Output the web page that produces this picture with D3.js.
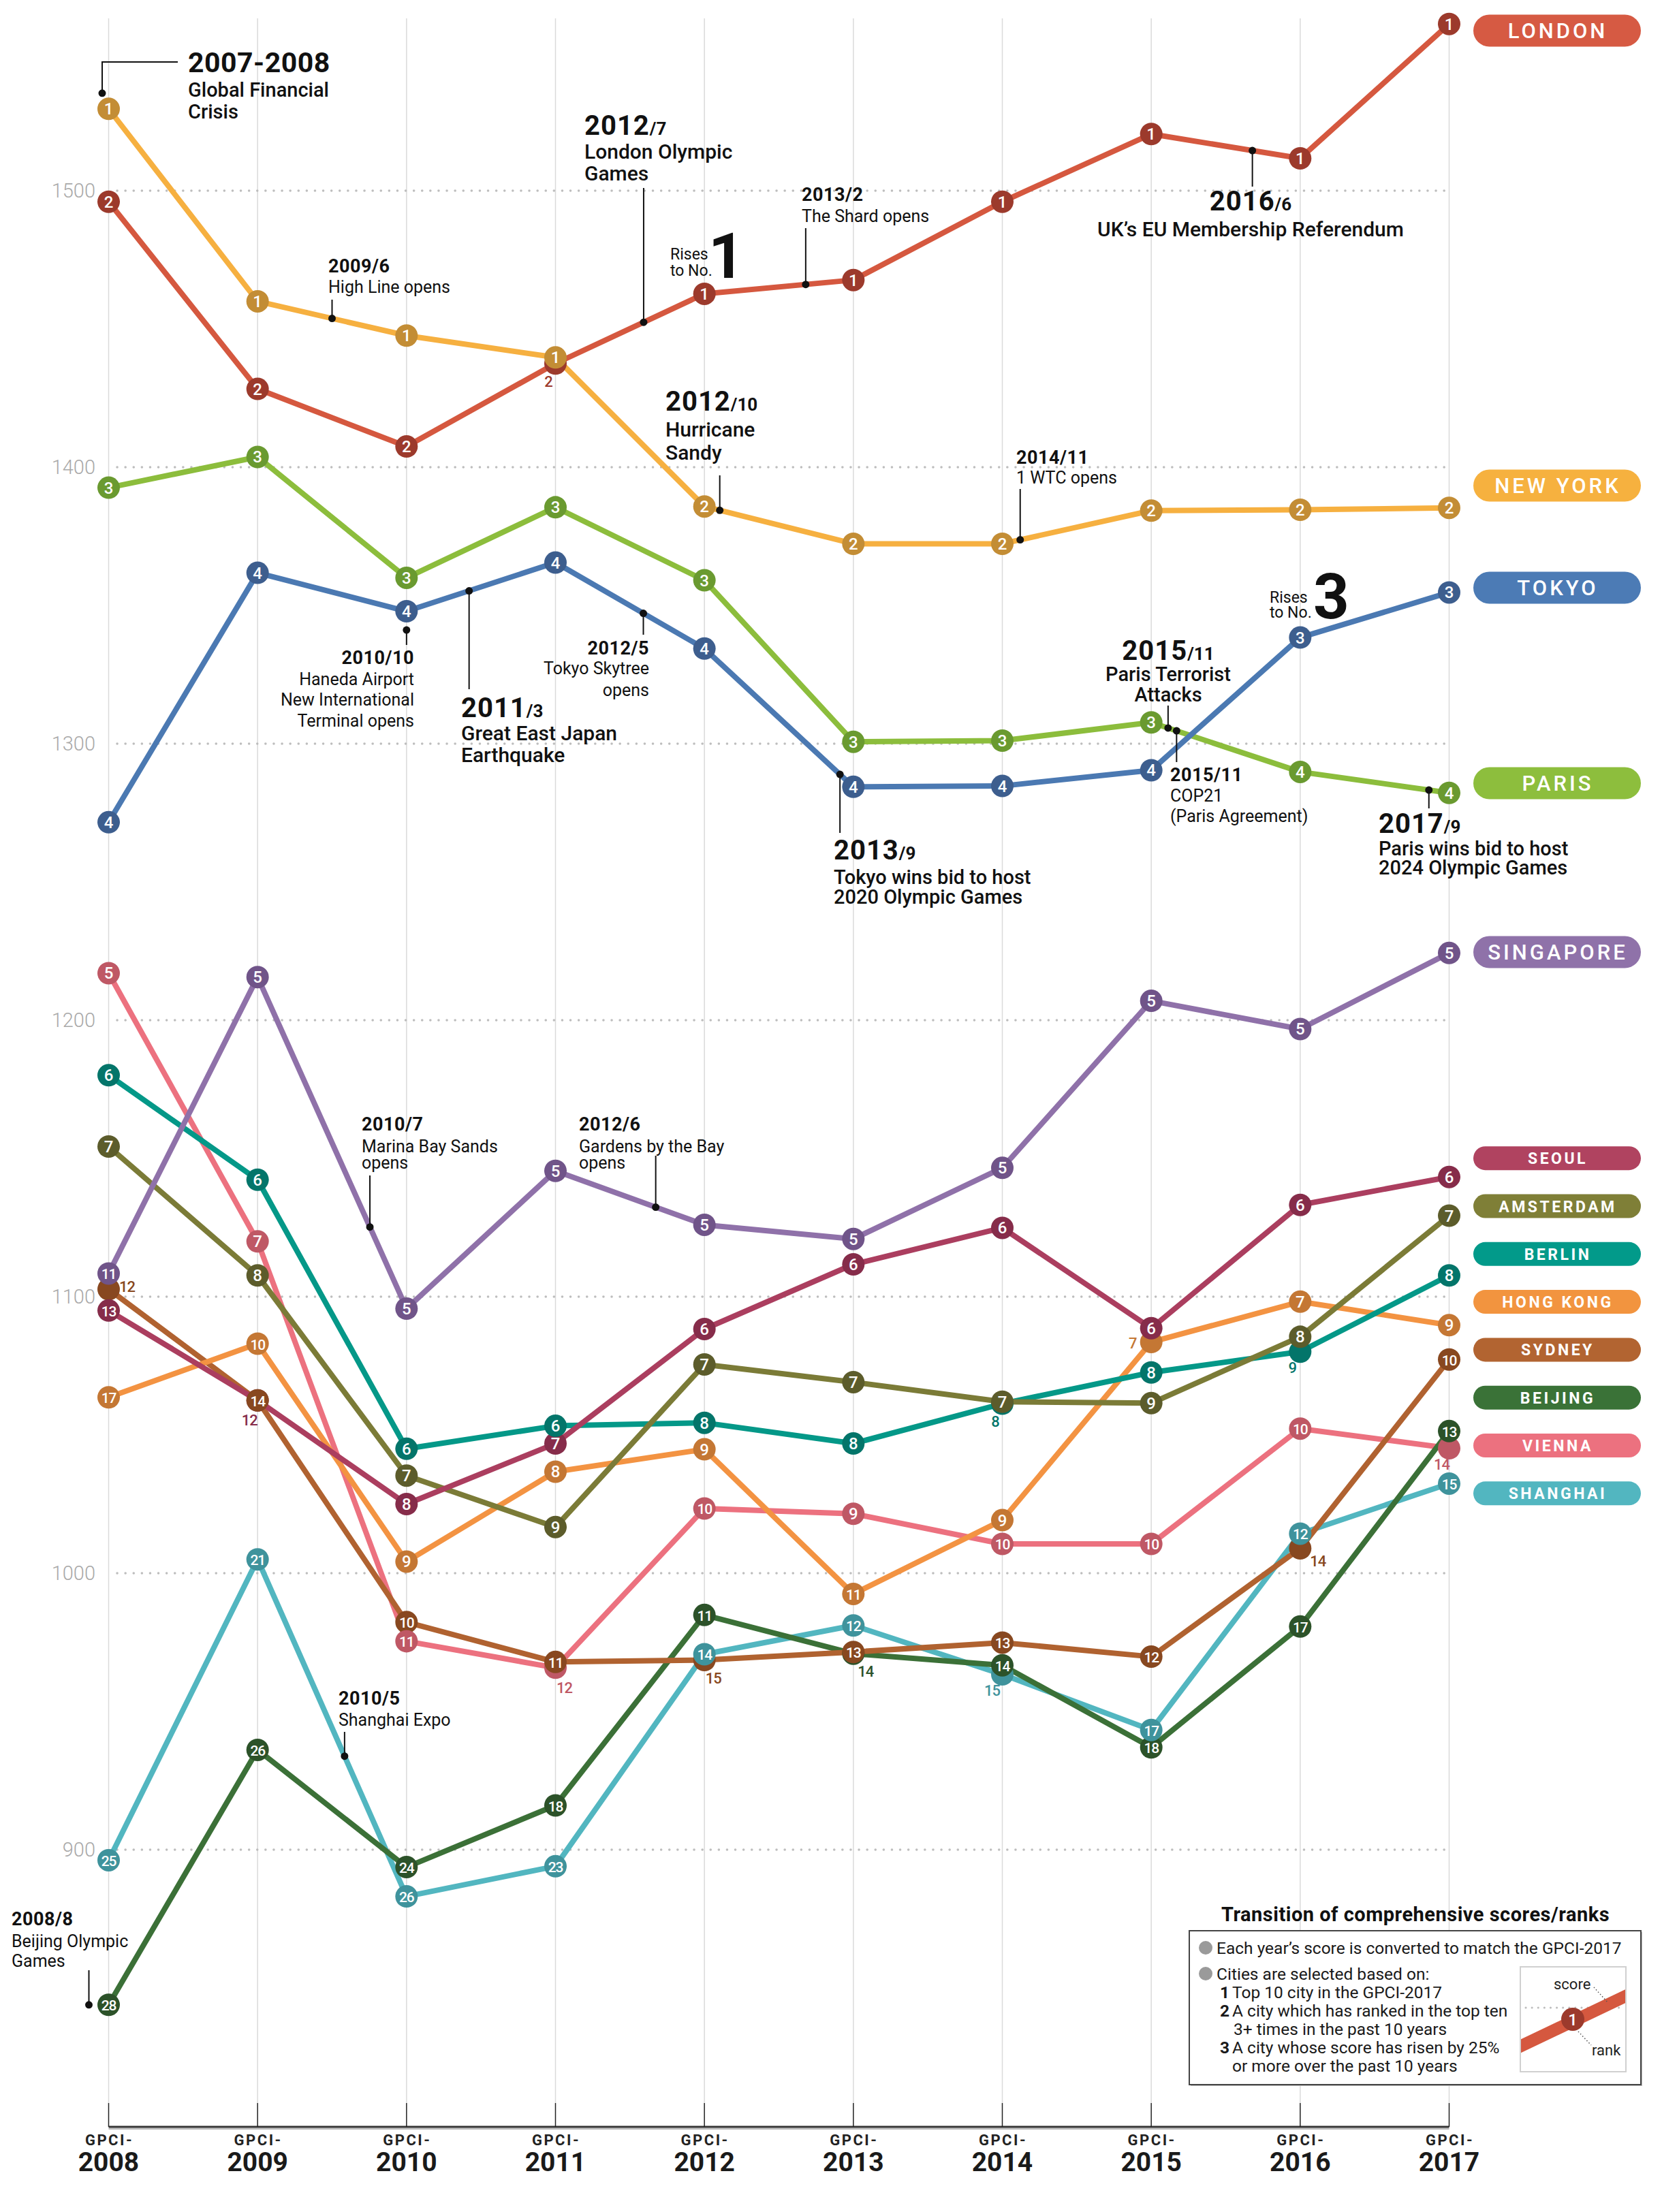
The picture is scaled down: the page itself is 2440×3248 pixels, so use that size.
<!DOCTYPE html>
<html><head><meta charset="utf-8">
<script src="https://cdn.jsdelivr.net/npm/d3@7"></script>
<style>
html,body{margin:0;padding:0;background:#fff;}
svg{display:block;font-family:Roboto,"Noto Sans",sans-serif;}
</style></head><body>
<svg id="chart" width="2440" height="3248"></svg>
<script>
// ---------------- DATA ----------------
const years = [2008,2009,2010,2011,2012,2013,2014,2015,2016,2017];
const yearTickLabels = ["2008","2009","2010","2011","2012","2013","2014","2015","2016","2017"];
const yTicks = [900,1000,1100,1200,1300,1400,1500];
const cityNames = ["London","New York","Tokyo","Paris","Singapore","Seoul","Amsterdam","Berlin","Hong Kong","Sydney","Beijing","Vienna","Shanghai"];

const londonScores    = [1496.0,1428.3,1407.5,1437.5,1462.7,1467.7,1496.0,1520.5,1511.7,1560.3];
const londonRanks     = [2,2,2,2,1,1,1,1,1,1];
const newYorkScores   = [1529.6,1460.0,1447.6,1439.7,1385.8,1372.3,1372.3,1384.3,1384.6,1385.3];
const newYorkRanks    = [1,1,1,1,2,2,2,2,2,2];
const tokyoScores     = [1271.6,1361.8,1347.9,1365.5,1334.4,1284.4,1284.7,1290.4,1338.4,1354.7];
const tokyoRanks      = [4,4,4,4,4,4,4,4,3,3];
const parisScores     = [1392.6,1403.7,1360.0,1385.5,1359.1,1300.7,1301.1,1307.7,1289.8,1282.2];
const parisRanks      = [3,3,3,3,3,3,3,3,4,4];
const singaporeScores = [1108.4,1215.6,1095.7,1145.5,1126.0,1120.9,1146.6,1207.0,1196.8,1224.3];
const singaporeRanks  = [11,5,5,5,5,5,5,5,5,5];
const seoulScores     = [1095.0,1062.5,1025.0,1046.9,1088.3,1111.7,1124.9,1088.6,1133.2,1143.3];
const seoulRanks      = [13,12,8,7,6,6,6,6,6,6];
const amsterdamScores = [1154.3,1107.7,1035.3,1016.7,1075.5,1069.1,1062.0,1061.5,1085.5,1129.3];
const amsterdamRanks  = [7,8,7,9,7,7,7,9,8,7];
const berlinScores    = [1180.1,1142.3,1045.0,1053.3,1054.4,1046.9,1061.3,1072.6,1080.1,1107.7];
const berlinRanks     = [6,6,6,6,8,8,8,8,9,8];
const hongKongScores  = [1063.6,1083.0,1004.2,1036.7,1044.8,992.5,1019.2,1083.6,1098.2,1089.7];
const hongKongRanks   = [17,10,9,8,9,11,9,7,7,9];
const sydneyScores    = [1102.7,1062.5,982.3,967.9,968.6,971.5,974.9,969.8,1009.0,1077.3];
const sydneyRanks     = [12,14,10,11,15,13,13,12,14,10];
const beijingScores   = [843.9,936.1,893.7,916.0,984.9,970.9,966.7,937.0,980.7,1051.4];
const beijingRanks    = [28,26,24,18,11,14,14,18,17,13];
const viennaScores    = [1217.0,1120.0,975.4,965.8,1023.4,1021.5,1010.6,1010.6,1052.3,1045.2];
const viennaRanks     = [5,7,11,12,10,9,10,10,10,14];
const shanghaiScores  = [896.2,1005.0,883.1,894.0,970.7,981.1,963.4,943.3,1014.3,1032.4];
const shanghaiRanks   = [25,21,26,23,14,12,15,17,12,15];

// ---------------- STYLE / LAYOUT ----------------
const cityStyle = {
  "London":    {line:"#d5583f", dot:"#9c3a2c", pill:"#d65a43"},
  "New York":  {line:"#f6b040", dot:"#c38d35", pill:"#f6b13f"},
  "Tokyo":     {line:"#4b79b2", dot:"#3d5e8e", pill:"#4c7bb5"},
  "Paris":     {line:"#8cbd3c", dot:"#6a9a30", pill:"#8dbe3d"},
  "Singapore": {line:"#8f71a9", dot:"#705489", pill:"#8f72a9"},
  "Seoul":     {line:"#ab3e5f", dot:"#862c4a", pill:"#b04360"},
  "Amsterdam": {line:"#7b7b37", dot:"#5c5c2b", pill:"#7f7f37"},
  "Berlin":    {line:"#049888", dot:"#03756a", pill:"#029a8a"},
  "Hong Kong": {line:"#f39342", dot:"#c47734", pill:"#f2943f"},
  "Sydney":    {line:"#b06230", dot:"#884820", pill:"#b26431"},
  "Beijing":   {line:"#3b7037", dot:"#2c5229", pill:"#3a7237"},
  "Vienna":    {line:"#ec717f", dot:"#bf5865", pill:"#ec717f"},
  "Shanghai":  {line:"#52b6c0", dot:"#3f939c", pill:"#52b6c0"}
};
// points whose circle is covered; rank shown as small number at offset
const coveredRanks = {
  "London":   {2011:[-10,26]},
  "Sydney":   {2008:[27,-4], 2012:[13,27], 2016:[26,19]},
  "Seoul":    {2009:[-12,29]},
  "Hong Kong":{2015:[-27,1]},
  "Berlin":   {2014:[-10,26], 2016:[-11,23]},
  "Vienna":   {2017:[-11,24], 2011:[13,29]},
  "Beijing":  {2013:[18,26]},
  "Shanghai": {2014:[-15,23]}
};
const pillY = {"London":45,"New York":713,"Tokyo":863,"Paris":1150,"Singapore":1398};
const smallPillStart = 1700.7, smallPillStep = 70.3;

const scoreArrays = [londonScores,newYorkScores,tokyoScores,parisScores,singaporeScores,seoulScores,amsterdamScores,berlinScores,hongKongScores,sydneyScores,beijingScores,viennaScores,shanghaiScores];
const rankArrays  = [londonRanks,newYorkRanks,tokyoRanks,parisRanks,singaporeRanks,seoulRanks,amsterdamRanks,berlinRanks,hongKongRanks,sydneyRanks,beijingRanks,viennaRanks,shanghaiRanks];
const series = cityNames.map((n,i)=>({name:n, scores:scoreArrays[i], ranks:rankArrays[i], st:cityStyle[n]}));
const byName = Object.fromEntries(series.map(s=>[s.name,s]));

// ---------------- SCALES ----------------
const svg = d3.select("#chart");
const x = d3.scalePoint().domain(years).range([159.5, 2127.5]);
const y = d3.scaleLinear().domain([800,1500]).range([3122, 280]);
const step = x.step();

function pointAt(s, t){
  const i = Math.min(Math.floor(t), years.length-2), f = t - i;
  return [x(years[i]) + f*step, y(s.scores[i]) + f*(y(s.scores[i+1]) - y(s.scores[i]))];
}

// ---------------- GRID ----------------
const grid = svg.append("g");
grid.selectAll("line.v").data(years).join("line")
  .attr("x1",d=>x(d)).attr("x2",d=>x(d)).attr("y1",27).attr("y2",3088)
  .attr("stroke","#dadada").attr("stroke-width",1.5);
grid.selectAll("line.h").data(yTicks).join("line")
  .attr("x1",172).attr("x2",2128).attr("y1",d=>y(d)).attr("y2",d=>y(d))
  .attr("stroke","#bdbdbd").attr("stroke-width",3.5).attr("stroke-dasharray","0.1 12")
  .attr("stroke-linecap","round");
grid.selectAll("text").data(yTicks).join("text")
  .attr("x",140).attr("y",d=>y(d)+10).attr("text-anchor","end")
  .attr("font-size",29).attr("font-weight",300).attr("fill","#a9a9a9").text(d=>d);

// ---------------- AXIS ----------------
const axis = svg.append("g");
axis.append("line").attr("x1",x(2008)).attr("x2",x(2017)).attr("y1",3126).attr("y2",3126)
  .attr("stroke","#bbb").attr("stroke-width",2);
axis.append("line").attr("x1",x(2008)).attr("x2",x(2017)).attr("y1",3123).attr("y2",3123)
  .attr("stroke","#333").attr("stroke-width",3);
axis.selectAll("line.t").data(years).join("line")
  .attr("x1",d=>x(d)).attr("x2",d=>x(d)).attr("y1",3088).attr("y2",3123)
  .attr("stroke","#222").attr("stroke-width",1.5);
axis.selectAll("text.g").data(years).join("text")
  .attr("x",d=>x(d)+1).attr("y",3150).attr("text-anchor","middle")
  .attr("font-size",22).attr("font-weight",700).attr("letter-spacing",2.5).attr("fill","#222").text("GPCI-");
axis.selectAll("text.yr").data(yearTickLabels).join("text")
  .attr("x",(d,i)=>x(years[i])).attr("y",3188).attr("text-anchor","middle")
  .attr("font-size",39).attr("font-weight",700).attr("fill","#1a1a1a").text(d=>d);

// ---------------- LINES ----------------
const lineGen = d3.line().x((d,i)=>x(years[i])).y(d=>y(d));
const linesG = svg.append("g");
series.slice().reverse().forEach(s=>{
  linesG.append("path").attr("d",lineGen(s.scores)).attr("fill","none")
    .attr("stroke",s.st.line).attr("stroke-width",8).attr("stroke-linejoin","round");
});

// ---------------- POINTS ----------------
const R = 16.5;
const ptsBottom = svg.append("g"), ptsTop = svg.append("g");
series.forEach(s=>{
  s.scores.forEach((v,i)=>{
    const yr = years[i], cx = x(yr), cy = y(v);
    const cov = coveredRanks[s.name] && coveredRanks[s.name][yr];
    if (cov){
      ptsBottom.append("circle").attr("cx",cx).attr("cy",cy).attr("r",R).attr("fill",s.st.dot);
      ptsTop.append("text").attr("x",cx+cov[0]).attr("y",cy+cov[1]+8).attr("text-anchor","middle")
        .attr("font-size",22).attr("font-weight",500).attr("fill",s.st.dot)
        .attr("letter-spacing",s.ranks[i]>9?-1:0).text(s.ranks[i]);
    }
  });
});
const ptsMain = svg.append("g");
series.forEach(s=>{
  s.scores.forEach((v,i)=>{
    const yr = years[i], cx = x(yr), cy = y(v);
    const cov = coveredRanks[s.name] && coveredRanks[s.name][yr];
    if (cov) return;
    ptsMain.append("circle").attr("cx",cx).attr("cy",cy).attr("r",R).attr("fill",s.st.dot);
    const r = s.ranks[i];
    ptsMain.append("text").attr("x",cx).attr("y",cy+8.5).attr("text-anchor","middle")
      .attr("font-size",r>9?21:24).attr("font-weight",500).attr("fill","#fff")
      .attr("letter-spacing",r>9?-1.2:0).text(r);
  });
});
svg.node().appendChild(ptsTop.node());

// ---------------- PILLS ----------------
const pills = svg.append("g");
series.forEach((s,i)=>{
  const big = i < 5;
  const h = big ? 47 : 35;
  const cy = big ? pillY[s.name] : smallPillStart + (i-5)*smallPillStep;
  pills.append("rect").attr("x",2163).attr("y",cy-h/2).attr("width",246).attr("height",h)
    .attr("rx",h/2).attr("fill",s.st.pill);
  pills.append("text").attr("x",2287).attr("y",cy+(big?11:8.5)).attr("text-anchor","middle")
    .attr("font-size",big?31:23).attr("font-weight",big?500:700).attr("letter-spacing",big?4:3.5)
    .attr("fill","#fff").text(s.name.toUpperCase());
});

// ---------------- ANNOTATIONS ----------------
const ann = svg.append("g").attr("fill","#111");
function block(xp, anchor, lines){
  lines.forEach(l=>{
    const t = ann.append("text").attr("x",xp).attr("y",l.y).attr("text-anchor",anchor);
    l.p.forEach(p=>{
      t.append("tspan").attr("font-size",p[1]).attr("font-weight",p[2]||400)
        .attr("letter-spacing",p[3]||0).text(p[0]);
    });
  });
}
function dotLeader(city, t, dx, dy, pts){
  const [px,py] = pointAt(byName[city], t);
  const d0 = [px+dx, py+dy];
  const path = d3.path(); path.moveTo(d0[0], d0[1]);
  pts.forEach(p=>path.lineTo(p[0]===null?d0[0]:p[0], p[1]));
  ann.append("path").attr("d",path.toString()).attr("fill","none").attr("stroke","#111").attr("stroke-width",2);
  ann.append("circle").attr("cx",d0[0]).attr("cy",d0[1]).attr("r",5.5).attr("fill","#111");
}
const BIG=40, SUF=26, SUB=30, DATE=27, DESC=25;

// 2007-2008
dotLeader("New York",0,-9.5,-23,[[null,91],[261,91]]);
block(276,"start",[{y:106,p:[["2007-2008",41,700,0.5]]},{y:142,p:[["Global Financial",29,500]]},{y:174,p:[["Crisis",29,500]]}]);
// 2009/6
dotLeader("New York",1.5,0,0,[[null,440]]);
block(482,"start",[{y:400,p:[["2009/6",DATE,700,0.5]]},{y:430,p:[["High Line opens",DESC]]}]);
// 2012/7
dotLeader("London",3.592,0,0,[[null,276]]);
block(858,"start",[{y:198,p:[["2012",BIG,700,1],["/7",SUF,700]]},{y:233,p:[["London Olympic",SUB,500]]},{y:265,p:[["Games",SUB,500]]}]);
// Rises to No.1
block(984,"start",[{y:381,p:[["Rises",23]]},{y:405,p:[["to No.",23]]}]);
block(1040,"start",[{y:408,p:[["1",92,700]]}]);
// 2013/2
dotLeader("London",4.68,0,0,[[null,335]]);
block(1177,"start",[{y:295,p:[["2013/2",DATE,700,0.5]]},{y:326,p:[["The Shard opens",DESC]]}]);
// 2016/6
dotLeader("London",7.679,0,0,[[null,274]]);
block(1836,"middle",[{y:309,p:[["2016",BIG,700,1],["/6",SUF,700]]},{y:347,p:[["UK’s EU Membership Referendum",SUB,500]]}]);
// 2012/10
dotLeader("New York",4.103,0,0,[[null,698]]);
block(977,"start",[{y:603,p:[["2012",BIG,700,1],["/10",SUF,700]]},{y:641,p:[["Hurricane",SUB,500]]},{y:675,p:[["Sandy",SUB,500]]}]);
// 2014/11
dotLeader("New York",6.12,0,0,[[null,718]]);
block(1492,"start",[{y:681,p:[["2014/11",DATE,700,0.5]]},{y:710,p:[["1 WTC opens",DESC]]}]);
// 2010/10
dotLeader("Tokyo",2,0,27.5,[[null,947]]);
block(608,"end",[{y:975,p:[["2010/10",DATE,700,0.5]]},{y:1006,p:[["Haneda Airport",DESC]]},{y:1036,p:[["New International",DESC]]},{y:1067,p:[["Terminal  opens",DESC]]}]);
// 2011/3
dotLeader("Tokyo",2.42,0,0,[[null,1012]]);
block(677,"start",[{y:1053,p:[["2011",BIG,700,1],["/3",SUF,700]]},{y:1087,p:[["Great East Japan",SUB,500]]},{y:1119,p:[["Earthquake",SUB,500]]}]);
// 2012/5
dotLeader("Tokyo",3.59,0,0,[[null,932]]);
block(953,"end",[{y:961,p:[["2012/5",DATE,700,0.5]]},{y:990,p:[["Tokyo Skytree",DESC]]},{y:1022,p:[["opens",DESC]]}]);
// 2013/9
dotLeader("Tokyo",4.91,0,0,[[null,1223]]);
block(1224,"start",[{y:1262,p:[["2013",BIG,700,1],["/9",SUF,700]]},{y:1298,p:[["Tokyo wins bid to host",29,500]]},{y:1327,p:[["2020 Olympic Games",29,500]]}]);
// Rises to No.3
block(1864,"start",[{y:885,p:[["Rises",23]]},{y:907,p:[["to No.",23]]}]);
block(1928,"start",[{y:908,p:[["3",92,700]]}]);
// 2015/11 attacks
dotLeader("Paris",7.113,0,0,[[null,1036]]);
block(1715,"middle",[{y:969,p:[["2015",BIG,700,1],["/11",SUF,700]]},{y:1000,p:[["Paris Terrorist",29,500]]},{y:1030,p:[["Attacks",29,500]]}]);
// COP21
dotLeader("Paris",7.17,0,0,[[null,1119]]);
block(1718,"start",[{y:1147,p:[["2015/11",DATE,700,0.5]]},{y:1177,p:[["COP21",DESC]]},{y:1207,p:[["(Paris Agreement)",DESC]]}]);
// 2017/9
dotLeader("Paris",8.864,0,0,[[null,1187]]);
block(2024,"start",[{y:1223,p:[["2017",BIG,700,1],["/9",SUF,700]]},{y:1256,p:[["Paris wins bid to host",29,500]]},{y:1284,p:[["2024 Olympic Games",29,500]]}]);
// 2010/7
dotLeader("Singapore",1.754,0,0,[[null,1726]]);
block(531,"start",[{y:1660,p:[["2010/7",DATE,700,0.5]]},{y:1692,p:[["Marina Bay Sands",DESC]]},{y:1716,p:[["opens",DESC]]}]);
// 2012/6
dotLeader("Singapore",3.673,0,0,[[null,1697]]);
block(850,"start",[{y:1660,p:[["2012/6",DATE,700,0.5]]},{y:1692,p:[["Gardens by the Bay",DESC]]},{y:1716,p:[["opens",DESC]]}]);
// 2010/5
dotLeader("Shanghai",1.584,0,0,[[null,2543]]);
block(497,"start",[{y:2503,p:[["2010/5",DATE,700,0.5]]},{y:2534,p:[["Shanghai Expo",DESC]]}]);
// 2008/8
dotLeader("Beijing",0,-29,0,[[null,2893]]);
block(17,"start",[{y:2827,p:[["2008/8",DATE,700,0.5]]},{y:2859,p:[["Beijing Olympic",DESC]]},{y:2888,p:[["Games",DESC]]}]);

// ---------------- LEGEND BOX ----------------
const lg = svg.append("g");
lg.append("text").attr("x",2078).attr("y",2821).attr("text-anchor","middle")
  .attr("font-size",29).attr("font-weight",700).attr("letter-spacing",0.5).attr("fill","#111").text("Transition of comprehensive scores/ranks");
lg.append("rect").attr("x",1748).attr("y",2837).attr("width",663).attr("height",226).attr("fill","#bbb");
lg.append("rect").attr("x",1746).attr("y",2835).attr("width",663).attr("height",226)
  .attr("fill","#fff").attr("stroke","#444").attr("stroke-width",2);
lg.append("circle").attr("cx",1770).attr("cy",2860).attr("r",10).attr("fill","#9a9a9a");
lg.append("circle").attr("cx",1770).attr("cy",2898).attr("r",10).attr("fill","#9a9a9a");
const lt = (xp,yp,str,w)=>lg.append("text").attr("x",xp).attr("y",yp).attr("font-size",24.5)
  .attr("font-weight",w||400).attr("fill","#1a1a1a").text(str);
lt(1786,2869,"Each year’s score is converted to match the GPCI-2017");
lt(1786,2907,"Cities are selected based on:");
lt(1791,2934,"1",700); lt(1809,2934,"Top 10 city in the GPCI-2017");
lt(1791,2961,"2",700); lt(1809,2961,"A city which has ranked in the top ten");
lt(1811,2988,"3+ times in the past 10 years");
lt(1791,3015,"3",700); lt(1809,3015,"A city whose score has risen by 25%");
lt(1809,3042,"or more over the past 10 years");
// inset
lg.append("clipPath").attr("id","insetClip").append("rect").attr("x",2233).attr("y",2889).attr("width",153).attr("height",152);
lg.append("rect").attr("x",2232).attr("y",2888).attr("width",155).attr("height",154)
  .attr("fill","#fff").attr("stroke","#d0d0d0").attr("stroke-width",2);
lg.append("line").attr("x1",2240).attr("x2",2382).attr("y1",2948).attr("y2",2948)
  .attr("stroke","#bdbdbd").attr("stroke-width",3).attr("stroke-dasharray","0.1 9").attr("stroke-linecap","round");
lg.append("line").attr("x1",2225).attr("y1",3008).attr("x2",2395).attr("y2",2927)
  .attr("stroke",cityStyle["London"].line).attr("stroke-width",18).attr("clip-path","url(#insetClip)");
lg.append("circle").attr("cx",2309).attr("cy",2965).attr("r",17).attr("fill",cityStyle["London"].dot);
lg.append("text").attr("x",2309).attr("y",2974).attr("text-anchor","middle").attr("font-size",24)
  .attr("font-weight",500).attr("fill","#fff").text("1");
lg.append("text").attr("x",2281).attr("y",2921).attr("font-size",22).attr("fill","#222").text("score");
lg.append("text").attr("x",2337).attr("y",3018).attr("font-size",22).attr("fill","#222").text("rank");
lg.append("line").attr("x1",2340).attr("y1",2918).attr("x2",2361).attr("y2",2941)
  .attr("stroke","#555").attr("stroke-width",1.5).attr("stroke-dasharray","1.5 3");
lg.append("line").attr("x1",2317).attr("y1",2983).attr("x2",2336).attr("y2",3003)
  .attr("stroke","#555").attr("stroke-width",1.5).attr("stroke-dasharray","1.5 3");
</script>
</body></html>
